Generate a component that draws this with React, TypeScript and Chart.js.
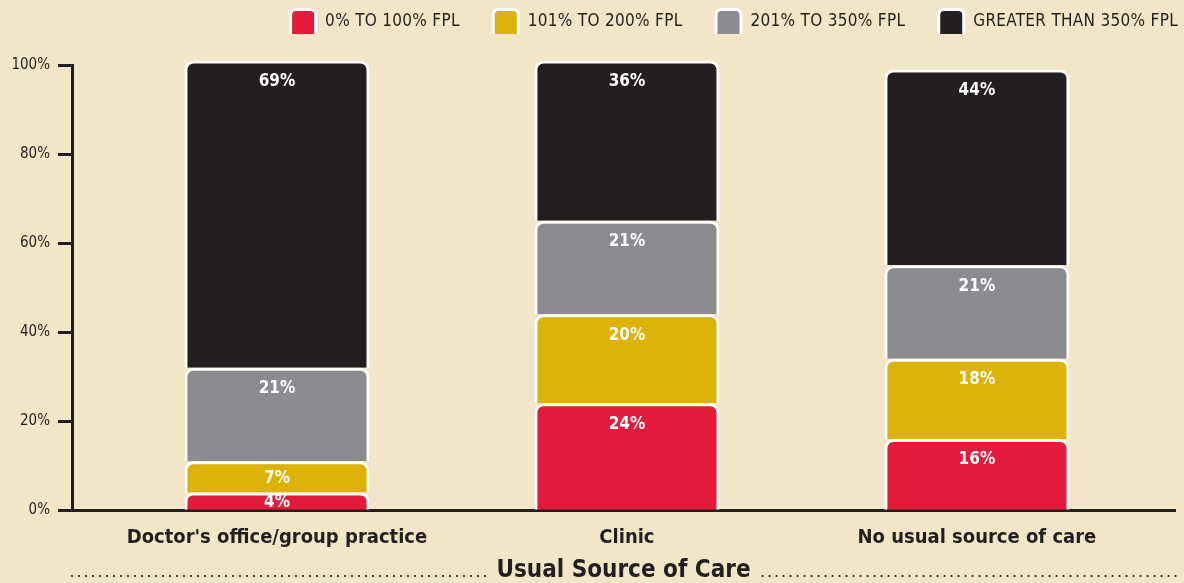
import React, { useEffect, useRef } from "react";
import { Chart, registerables } from "chart.js";
Chart.register(...registerables);

const categories = ["Doctor's office/group practice", "Clinic", "No usual source of care"];
const seriesNames = ["0% TO 100% FPL", "101% TO 200% FPL", "201% TO 350% FPL", "GREATER THAN 350% FPL"];
const fpl0to100 = [4, 24, 16];
const fpl101to200 = [7, 20, 18];
const fpl201to350 = [21, 21, 21];
const fplOver350 = [69, 36, 44];
const yTickValues = [0, 20, 40, 60, 80, 100];
const axisTitle = "Usual Source of Care";

const colors = ["#e41a3a", "#dcb207", "#8b8c90", "#231f20"];
const DARK = "#231f20";
const BG = "#f3e5c7";
const COND = "'DejaVu Sans Condensed', 'Liberation Sans Narrow', 'Noto Sans', sans-serif";
const REG = "'DejaVu Sans Condensed', 'Liberation Sans Narrow', 'Noto Sans', sans-serif";

const valueLabelPlugin = {
  id: "valueLabels",
  afterDatasetsDraw(chart: any) {
    const ctx = chart.ctx;
    ctx.save();
    ctx.fillStyle = "#ffffff";
    ctx.font = `bold 17px ${COND}`;
    ctx.textAlign = "center";
    ctx.textBaseline = "middle";
    chart.data.datasets.forEach((ds: any, di: number) => {
      const meta = chart.getDatasetMeta(di);
      meta.data.forEach((el: any, i: number) => {
        const v = ds.data[i].y;
        const top = Math.min(el.y, el.base);
        const bottom = Math.max(el.y, el.base);
        const y = Math.min(top + 21, (top + bottom) / 2 + 2);
        ctx.fillText(`${v}%`, el.x, y);
      });
    });
    ctx.restore();
  },
};

const legendPlugin = {
  id: "customLegend",
  afterDraw(chart: any) {
    const ctx = chart.ctx;
    ctx.save();
    ctx.font = `17px ${REG}`;
    (ctx as any).letterSpacing = "0.3px";
    ctx.textBaseline = "middle";
    ctx.textAlign = "left";
    const ds = chart.data.datasets;
    let xr = 1178;
    for (let i = ds.length - 1; i >= 0; i--) {
      const label = ds[i].label;
      const w = ctx.measureText(label).width;
      const tx = xr - w;
      const bx1 = tx - 8;
      const bx0 = bx1 - 28;
      ctx.fillStyle = "#ffffff";
      ctx.beginPath();
      ctx.roundRect(bx0, 8, bx1 - bx0, 26, [6, 6, 0, 0]);
      ctx.fill();
      ctx.fillStyle = ds[i].backgroundColor;
      ctx.beginPath();
      ctx.roundRect(bx0 + 3, 11, bx1 - bx0 - 6, 23, [4, 4, 0, 0]);
      ctx.fill();
      ctx.fillStyle = DARK;
      ctx.fillText(label, tx, 22);
      xr = bx0 - 32;
    }
    ctx.restore();
  },
};

const dottedPlugin = {
  id: "dottedRule",
  afterDraw(chart: any) {
    const ctx = chart.ctx;
    const ca = chart.chartArea;
    ctx.save();
    ctx.font = `bold 24px ${COND}`;
    const tw = ctx.measureText(axisTitle).width;
    const cx = (ca.left + ca.right) / 2;
    const y = 576;
    ctx.fillStyle = DARK;
    const leftEnd = cx - tw / 2 - 10;
    const rightStart = cx + tw / 2 + 12;
    for (let x = 72; x <= leftEnd; x += 7) {
      ctx.beginPath();
      ctx.arc(x, y, 1.1, 0, Math.PI * 2);
      ctx.fill();
    }
    for (let x = rightStart; x <= 1180; x += 7) {
      ctx.beginPath();
      ctx.arc(x, y, 1.1, 0, Math.PI * 2);
      ctx.fill();
    }
    ctx.restore();
  },
};

export default function App() {
  const ref = useRef<HTMLCanvasElement>(null);
  useEffect(() => {
    if (!ref.current) return;
    const series = [fpl0to100, fpl101to200, fpl201to350, fplOver350];
    const datasets = series.map((vals, si) => ({
      label: seriesNames[si],
      data: vals.map((v, i) => ({ x: i, y: v })),
      backgroundColor: colors[si],
      borderColor: "#ffffff",
      borderWidth: { top: 3, left: 3, right: 3, bottom: 0 },
      borderRadius: { topLeft: 9, topRight: 9, bottomLeft: 0, bottomRight: 0 },
      borderSkipped: false,
      barThickness: 185,
      inflateAmount: 0,
      clip: false,
    }));
    const chart = new Chart(ref.current, {
      type: "bar",
      data: { datasets } as any,
      options: {
        animation: false,
        responsive: false,
        maintainAspectRatio: false,
        layout: { padding: { top: 65, right: 9, left: 0, bottom: -2 } },
        plugins: {
          legend: { display: false },
          tooltip: { enabled: false },
        },
        scales: {
          x: {
            type: "linear",
            stacked: true,
            offset: false,
            bounds: "data",
            min: -0.5857,
            max: 2.566,
            afterBuildTicks: (s: any) => {
              s.ticks = categories.map((_, i) => ({ value: i }));
            },
            ticks: {
              autoSkip: false,
              maxRotation: 0,
              callback: (v: any) => categories[v as number] ?? "",
              font: { family: COND, size: 20, weight: "bold" },
              color: DARK,
              padding: 16,
            },
            grid: { display: false, drawTicks: false, tickLength: 0, offset: false },
            border: { display: true, color: DARK, width: 3 },
            title: {
              display: true,
              text: axisTitle,
              font: { family: COND, size: 24, weight: "bold" },
              color: DARK,
              padding: { top: -10, bottom: 0 },
            },
          },
          y: {
            stacked: true,
            min: 0,
            max: 100,
            afterBuildTicks: (s: any) => {
              s.ticks = yTickValues.map((v) => ({ value: v }));
            },
            afterFit: (s: any) => {
              s.width = 72;
            },
            ticks: {
              callback: (v: any) => `${v}%`,
              font: { family: REG, size: 15 },
              color: DARK,
              padding: 8,
            },
            grid: {
              drawOnChartArea: false,
              drawTicks: true,
              tickLength: 14,
              tickWidth: 3,
              tickColor: DARK,
            },
            border: { display: true, color: DARK, width: 3 },
          },
        },
      } as any,
      plugins: [valueLabelPlugin, legendPlugin, dottedPlugin],
    });
    return () => chart.destroy();
  }, []);
  return (
    <div style={{ position: "fixed", left: 0, top: 0, width: 1184, height: 583, background: BG }}>
      <canvas ref={ref} width={1184} height={583} style={{ display: "block", width: 1184, height: 583 }} />
    </div>
  );
}
